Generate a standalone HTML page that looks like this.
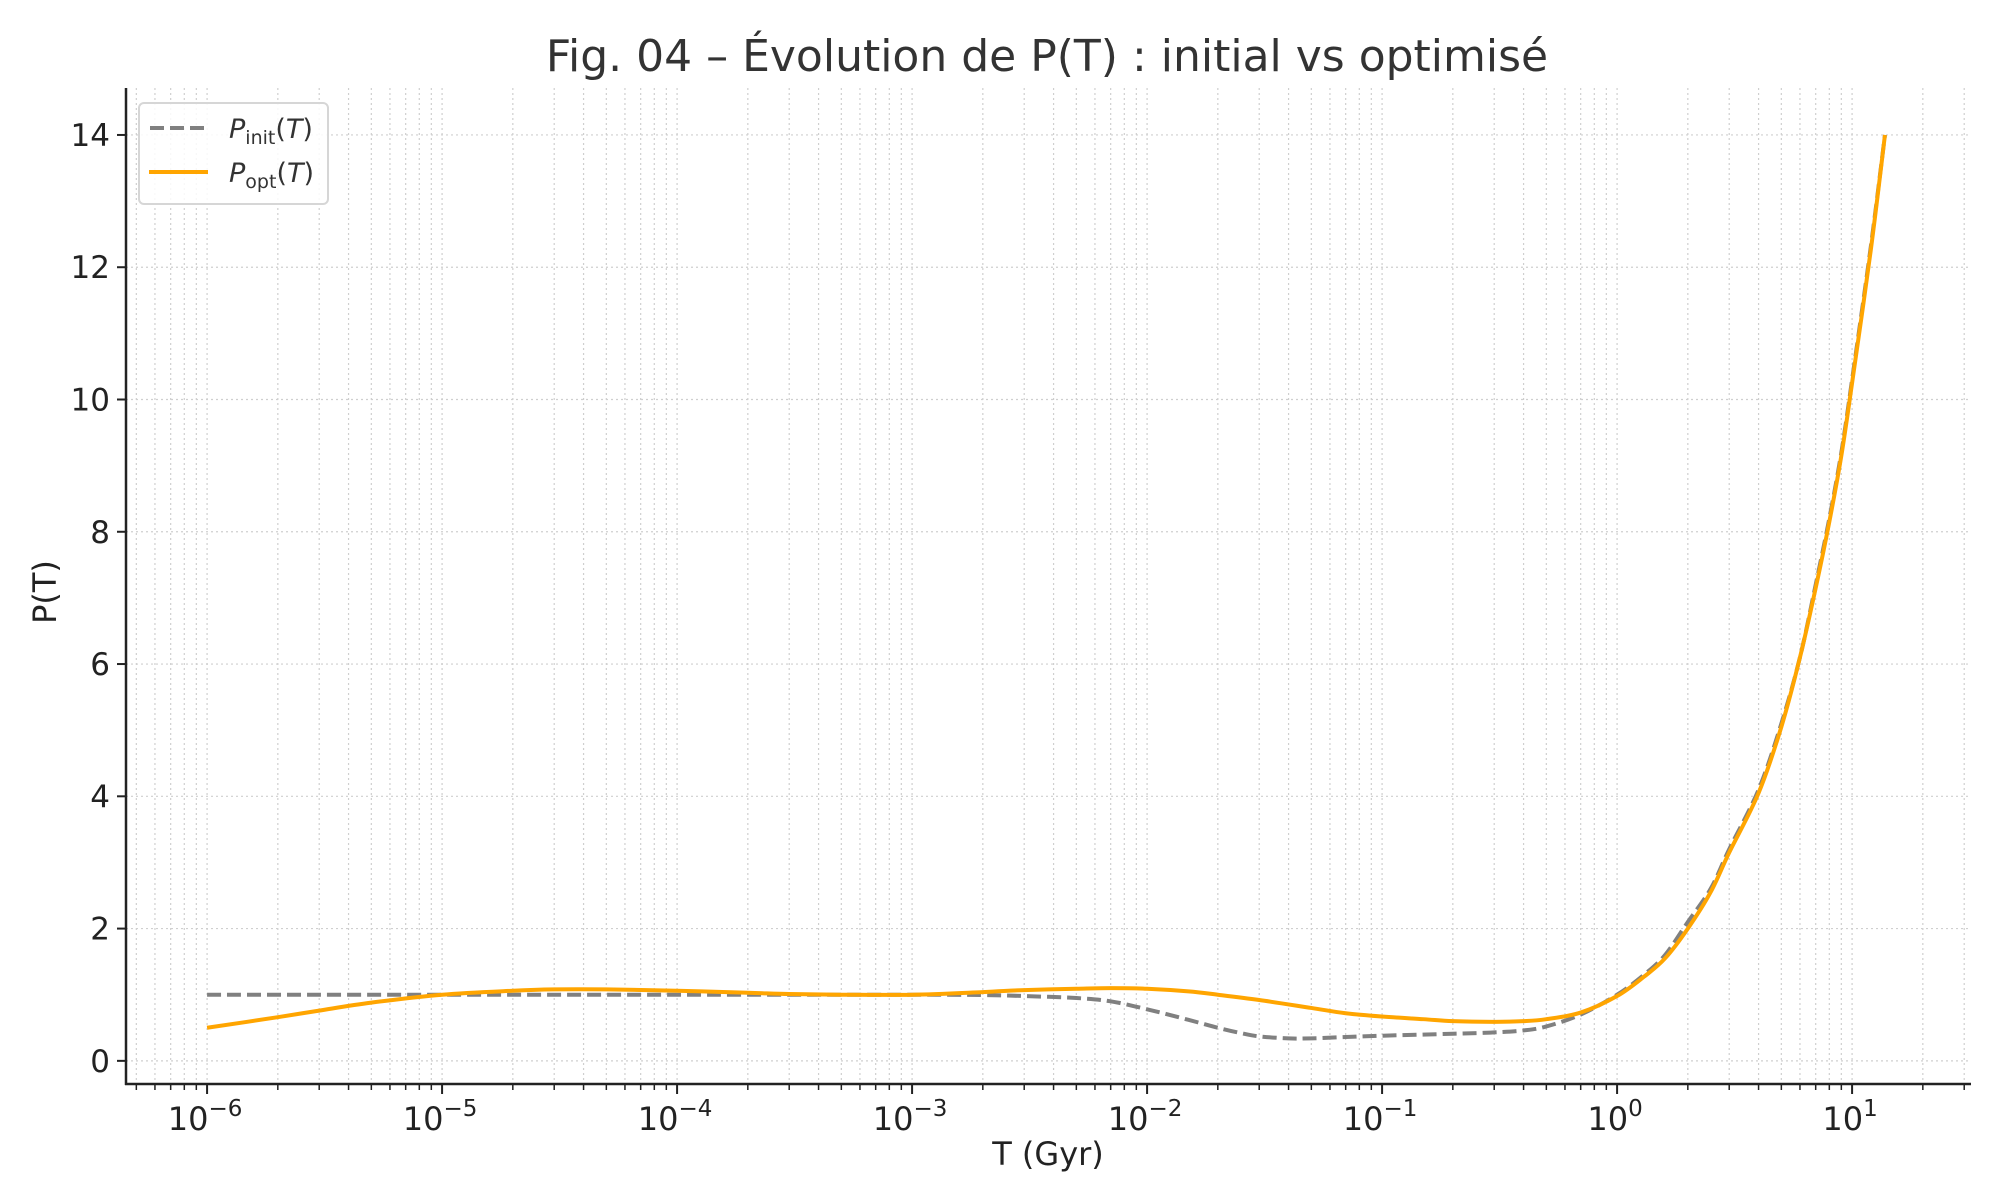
<!DOCTYPE html>
<html><head><meta charset="utf-8"><style>
body{margin:0;background:#fff}
svg{display:block;font-family:"DejaVu Sans","Liberation Sans",sans-serif}
</style></head><body>
<svg id="chart" width="2000" height="1200" viewBox="0 0 2000 1200" xmlns="http://www.w3.org/2000/svg">
<rect width="2000" height="1200" fill="#fff"/>
<text x="1047" y="71" font-size="44" text-anchor="middle" fill="#333">Fig. 04 – Évolution de P(T) : initial vs optimisé</text>
<g id="grid"></g>
<g id="series"></g>
<g id="axes"></g>
<text x="1048" y="1165" font-size="32" text-anchor="middle" fill="#222">T (Gyr)</text>
<text transform="translate(56,592) rotate(-90)" font-size="32" text-anchor="middle" fill="#222">P(T)</text>
<g>
<rect x="139" y="103" width="189" height="101" rx="5" fill="#fff" fill-opacity="0.85" stroke="#d6d6d6" stroke-width="2"/>
<line x1="150" y1="128" x2="206" y2="128" stroke="#808080" stroke-width="4" stroke-dasharray="14,6"/>
<text x="229" y="138" font-size="27" fill="#333"><tspan font-style="italic">P</tspan><tspan font-size="19" dy="6">init</tspan><tspan dy="-6">(</tspan><tspan font-style="italic">T</tspan>)</text>
<line x1="149" y1="172" x2="208" y2="172" stroke="#ffa500" stroke-width="4"/>
<text x="229" y="182" font-size="27" fill="#333"><tspan font-style="italic">P</tspan><tspan font-size="19" dy="6">opt</tspan><tspan dy="-6">(</tspan><tspan font-style="italic">T</tspan>)</text>
</g>
</svg>
<script>
const tInit=[1e-6,1e-5,1e-4,1e-3,2e-3,3e-3,5e-3,7e-3,1e-2,1.5e-2,2e-2,2.5e-2,3e-2,4e-2,5e-2,7e-2,0.1,0.2,0.3,0.4,0.5,0.7,1,1.3,1.6,2,2.5,3,4,5,6,7,8,9,10,12,13.8];
const pInit=[1,1,1,1,0.995,0.98,0.95,0.9,0.78,0.62,0.5,0.42,0.37,0.34,0.34,0.36,0.38,0.41,0.43,0.46,0.52,0.7,1.0,1.3,1.6,2.1,2.6,3.2,4.1,5.1,6.1,7.2,8.2,9.2,10.3,12.3,14.0];
const tOpt=[1e-6,2e-6,3e-6,5e-6,1e-5,2e-5,3e-5,5e-5,1e-4,2e-4,3e-4,5e-4,1e-3,2e-3,3e-3,5e-3,7e-3,1e-2,1.5e-2,2e-2,3e-2,5e-2,7e-2,0.1,0.15,0.2,0.3,0.4,0.5,0.7,1,1.3,1.6,2,2.5,3,4,5,6,7,8,9,10,12,13.8];
const pOpt=[0.5,0.66,0.76,0.88,1.0,1.06,1.08,1.08,1.06,1.03,1.01,1.0,1.0,1.04,1.07,1.09,1.1,1.09,1.05,1.0,0.92,0.8,0.72,0.67,0.63,0.6,0.59,0.6,0.63,0.73,0.98,1.27,1.55,2.0,2.55,3.15,4.05,5.05,6.1,7.15,8.15,9.15,10.25,12.25,14.0];
const yTicks=[0,2,4,6,8,10,12,14];
const xDecades=[-6,-5,-4,-3,-2,-1,0,1];
const NS="http://www.w3.org/2000/svg";
const L=126,R=1971,T=88,B=1084;
const lxmin=-6.345,lxmax=1.506,ymin=-0.35,ymax=14.71;
const X=v=>L+(Math.log10(v)-lxmin)/(lxmax-lxmin)*(R-L);
const Y=v=>B-(v-ymin)/(ymax-ymin)*(B-T);
function mk(tag,attrs,parent){const e=document.createElementNS(NS,tag);for(const k in attrs)e.setAttribute(k,attrs[k]);parent.appendChild(e);return e;}
const grid=document.getElementById('grid'),axes=document.getElementById('axes'),series=document.getElementById('series');
for(let d=-7;d<=1;d++){for(let m=1;m<=9;m++){const v=m*Math.pow(10,d);const lv=Math.log10(v);if(lv<lxmin||lv>lxmax)continue;const x=X(v);
const g=mk('line',{x1:x,x2:x,y1:T,y2:B,stroke:'#cfcfcf','stroke-width':1.2,'stroke-dasharray':'2,3'},grid);

const t=mk('line',{x1:x,x2:x,y1:B,y2:B+(m===1?10:6),stroke:'#222','stroke-width':m===1?2:1.5},axes);
}}
xDecades.forEach(d=>{const x=X(Math.pow(10,d));const tx=mk('text',{x:x-2,y:B+46,'font-size':32,'text-anchor':'middle',fill:'#222'},axes);

tx.innerHTML='10<tspan font-size="23" dy="-14">'+(d<0?'−':'')+Math.abs(d)+'</tspan>';});
yTicks.forEach(v=>{const y=Y(v);
const g=mk('line',{x1:L,x2:R,y1:y,y2:y,stroke:'#cfcfcf','stroke-width':1.2,'stroke-dasharray':'2,3'},grid);

const t=mk('line',{x1:L-9,x2:L,y1:y,y2:y,stroke:'#222','stroke-width':2},axes);

const tx=mk('text',{x:L-16,y:y+11,'font-size':31,'text-anchor':'end',fill:'#222'},axes);
tx.textContent=v;});
const ax1=mk('line',{x1:L,x2:L,y1:T,y2:B+1,stroke:'#222','stroke-width':2.5},axes);

const ax2=mk('line',{x1:L-1,x2:R,y1:B,y2:B,stroke:'#222','stroke-width':2.5},axes);

function path(ts,ps){const p=ts.map((t,i)=>[X(t),Y(ps[i])]);let d='M'+p[0][0].toFixed(2)+','+p[0][1].toFixed(2);
for(let i=0;i<p.length-1;i++){const p0=p[Math.max(0,i-1)],p1=p[i],p2=p[i+1],p3=p[Math.min(p.length-1,i+2)];
const c1=[p1[0]+(p2[0]-p0[0])/6,p1[1]+(p2[1]-p0[1])/6],c2=[p2[0]-(p3[0]-p1[0])/6,p2[1]-(p3[1]-p1[1])/6];
d+=' C'+c1.map(v=>v.toFixed(2)).join(',')+' '+c2.map(v=>v.toFixed(2)).join(',')+' '+p2.map(v=>v.toFixed(2)).join(',');}
return d;}
const pi=mk('path',{d:path(tInit,pInit),fill:'none',stroke:'#808080','stroke-width':4,'stroke-dasharray':'14,6','stroke-linejoin':'round'},series);

const po=mk('path',{d:path(tOpt,pOpt),fill:'none',stroke:'#ffa500','stroke-width':4,'stroke-linejoin':'round'},series);

</script>
</body></html>
